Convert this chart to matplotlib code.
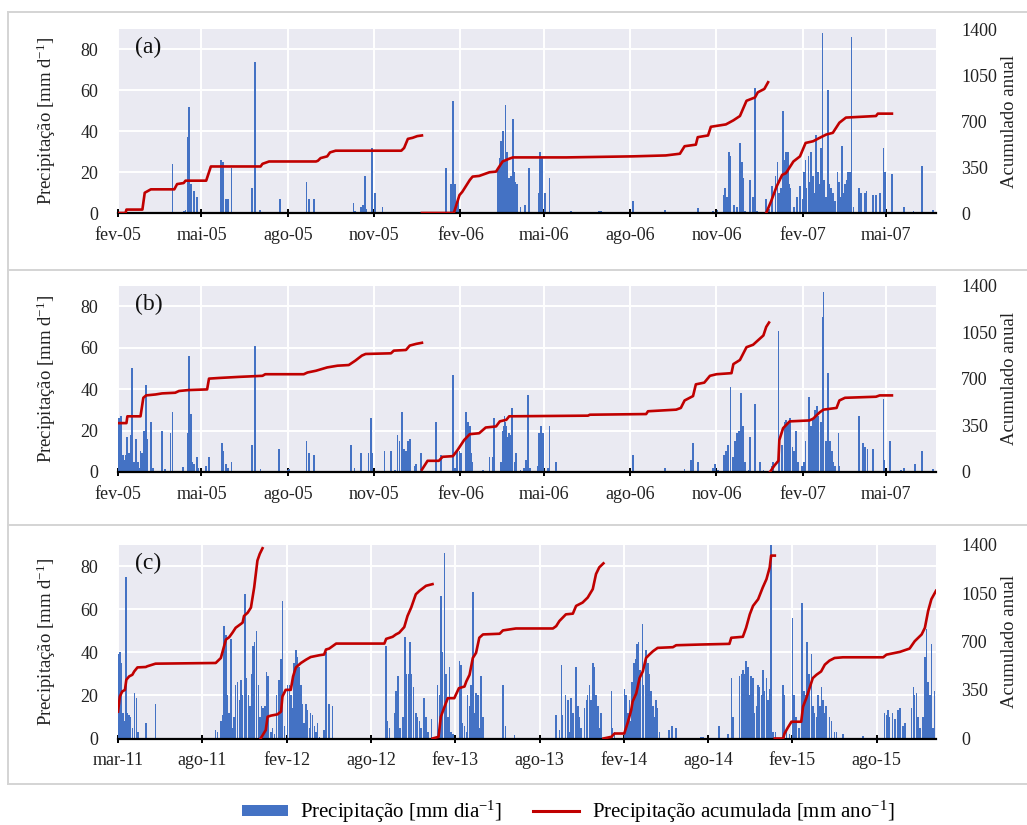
import datetime as dt
import numpy as np
import matplotlib
matplotlib.use("Agg")
import matplotlib.pyplot as plt
import matplotlib.dates as mdates
from matplotlib.lines import Line2D
from matplotlib.patches import Patch

plt.rcParams['font.family'] = ['Liberation Serif', 'DejaVu Serif']
plt.rcParams['mathtext.fontset'] = 'custom'
plt.rcParams['mathtext.rm'] = 'Liberation Serif'
plt.rcParams['mathtext.default'] = 'regular'

# ---------------- data ----------------
# panels (a) and (b): day offsets from 2005-02-01
start_ab = dt.date(2005, 2, 1)
span_ab = 872
ticks_ab = [dt.date(2005, 2, 1), dt.date(2005, 5, 1), dt.date(2005, 8, 1), dt.date(2005, 11, 1),
            dt.date(2006, 2, 1), dt.date(2006, 5, 1), dt.date(2006, 8, 1), dt.date(2006, 11, 1),
            dt.date(2007, 2, 1), dt.date(2007, 5, 1)]
labels_ab = ['fev-05', 'mai-05', 'ago-05', 'nov-05', 'fev-06', 'mai-06', 'ago-06', 'nov-06', 'fev-07', 'mai-07']

a_day = [37, 47, 58, 70, 72, 74, 75, 76, 78, 81, 84, 97, 104, 110, 112, 115, 117, 121, 143, 146, 151, 173,
         201, 204, 209, 224, 251, 253, 259, 261, 263, 265, 271, 274, 282, 293, 350, 355, 357, 359, 361, 363,
         405, 407, 408, 410, 412, 413, 415, 417, 418, 419, 421, 422, 423, 425, 429, 434, 438, 449, 450, 451,
         452, 455, 460, 471, 483, 513, 515, 549, 583, 588, 618, 634, 639, 646, 647, 649, 651, 653, 657, 660,
         663, 665, 666, 668, 674, 677, 679, 681, 691, 694, 697, 701, 703, 705, 707, 709, 710, 712, 714, 715,
         717, 720, 721, 724, 727, 730, 731, 733, 734, 736, 737, 739, 741, 742, 744, 746, 747, 749, 751, 753,
         755, 757, 758, 760, 762, 764, 767, 769, 770, 772, 774, 775, 777, 778, 780, 782, 784, 790, 792, 796,
         798, 800, 805, 808, 812, 816, 818, 825, 838, 848, 857, 869]
a_mm = [0.5, 0.5, 24, 1, 1.5, 15, 37, 52, 14, 11, 8, 0.5, 0.5, 26, 25, 7, 7, 22, 12, 74, 1.5, 7,
        15, 7, 7, 0.5, 5, 1, 3, 4, 18, 2, 32, 10, 3, 0.5, 22, 14, 55, 14, 4, 8,
        22, 27, 35, 40, 25, 53, 30, 17, 16, 18, 46, 20, 15, 14, 3, 4, 22, 10, 30, 20,
        27, 10, 17, 0.5, 1, 1, 1, 6, 1.5, 0.5, 2.5, 1, 1.5, 9, 12, 8, 30, 28, 4, 3,
        34, 25, 17, 1, 16, 8, 61, 1, 7, 2, 13, 18, 25, 10, 12, 50, 26, 30, 30, 14,
        12, 3, 3, 8, 13, 7, 20, 26, 12, 28, 15, 30, 18, 10, 38, 20, 14, 32, 88, 16,
        8, 60, 14, 12, 10, 6, 20, 15, 8, 33, 10, 14, 16, 20, 20, 86, 3, 12, 10, 10,
        11, 0.5, 9, 9, 10, 32, 20, 19, 3, 1, 23, 1.5]

a_cum_day = [0, 8, 9, 26, 28.5, 35, 60, 63, 70, 72, 94, 99, 152, 154, 161, 211, 213, 216, 223, 226, 232,
             302, 305, 309, 314, 319, 324, np.nan,
             324, 358, 364, 367, 375, 378, 385, 396, 403, 407, 410, 417, 421, 478, 549, 584, 599, 604, 616,
             618, 629, 632, 648, 656, 663, 670, 679, 682, 689, 693, np.nan,
             691, 696, 702, 708, 712, 720, 727, 733, 741, 748, 755, 762, 769, 776, 808, 810, 825]
a_cum_val = [0, 0, 26, 26, 154, 180, 180, 220, 228, 246, 246, 354, 354, 374, 392, 392, 397, 418, 431, 461, 474,
             474, 495, 564, 572, 585, 590, np.nan,
             0, 0, 136, 161, 251, 277, 282, 310, 315, 359, 392, 413, 423, 423, 431, 438, 451, 508, 520,
             577, 590, 656, 674, 705, 738, 854, 879, 918, 944, 995, np.nan,
             0, 85, 200, 290, 303, 392, 431, 533, 546, 572, 597, 610, 687, 726, 738, 756, 756]

b_day = [0, 1, 3, 5, 6, 8, 10, 12, 14, 15, 17, 19, 21, 22, 24, 26, 28, 30, 31, 35, 37, 47, 50, 56, 58, 69,
         74, 76, 78, 79, 81, 84, 85, 94, 97, 111, 112, 115, 117, 121, 143, 146, 152, 172, 181, 182, 201, 204,
         209, 248, 252, 259, 267, 270, 271, 284, 291, 295, 298, 300, 303, 305, 307, 309, 311, 316, 318, 323,
         339, 344, 357, 359, 361, 364, 366, 371, 373, 375, 376, 378, 384, 389, 396, 400, 401, 405, 408, 410,
         411, 412, 413, 414, 416, 417, 418, 420, 423, 424, 429, 433, 435, 437, 439, 448, 449, 451, 453, 458,
         460, 467, 549, 583, 604, 611, 613, 618, 634, 636, 640, 646, 648, 650, 653, 656, 658, 660, 662, 664,
         666, 668, 673, 674, 679, 684, 688, 697, 698, 704, 705, 708, 711, 712, 714, 716, 719, 721, 723, 725,
         729, 731, 733, 736, 737, 739, 741, 743, 745, 746, 749, 751, 752, 755, 757, 759, 761, 762, 764, 768,
         769, 790, 794, 796, 799, 805, 816, 817, 823, 835, 838, 850, 857, 869]
b_mm = [11, 26, 27, 8, 6, 8, 17, 9, 18, 50, 5, 16, 5, 2, 10, 9, 20, 42, 16, 24, 2, 20, 1.5, 19, 29, 2.5,
        19, 56, 28, 5, 4, 7, 2, 3, 7, 14, 10, 4, 2, 5, 13, 61, 1.5, 11, 1, 1.5, 15, 9,
        8, 13, 2, 9, 9, 26, 9, 10, 10, 1, 18, 15, 29, 11, 10, 15, 16, 3, 4, 9,
        24, 8, 47, 2, 10, 10, 9, 29, 24, 22, 9, 5, 0.5, 1, 7, 7, 26, 0.5, 5, 20,
        22, 27, 24, 22, 17, 19, 18, 31, 5, 9, 1, 2, 6, 37, 2, 3, 19, 22, 19, 2,
        22, 5, 8, 2, 1.5, 6, 14, 5, 2, 4, 1, 8, 10, 13, 41, 7, 15, 19, 20, 38,
        22, 5, 1, 17, 33, 5, 1, 3, 5, 68, 10, 13, 24, 25, 24, 26, 12, 10, 20, 5,
        3, 5, 15, 35, 36, 22, 25, 30, 32, 27, 24, 75, 87, 15, 48, 15, 10, 5, 3, 19,
        3, 27, 14, 12, 11, 11, 35, 6, 15, 1, 2, 4, 10, 1.5]

b_cum_day = [0, 9, 10, 24, 27, 30, 40, 47, 61, 65, 75, 95, 97, 108, 129, 154, 157, 198, 202, 211, 223, 234,
             246, 253, 260, 264, 291, 294, 307, 311, 318, 324, np.nan,
             324, 330, 342, 346, 357, 362, 369, 375, 385, 392, 403, 407, 414, 417, 501, 503, 563, 565, 595,
             600, 604, 613, 616, 625, 631, 638, 654, 656, 663, 670, 677, 682, 688, 691, 694, np.nan,
             695, 700, 704, 705, 709, 716, 737, 741, 748, 752, 766, 769, 775, 808, 812, 825]
b_cum_val = [367, 367, 418, 418, 557, 575, 582, 590, 595, 608, 615, 620, 701, 706, 714, 722, 734, 734, 747, 760,
             785, 798, 803, 836, 874, 886, 891, 911, 916, 949, 962, 970, np.nan,
             18, 84, 84, 114, 119, 165, 240, 284, 291, 334, 342, 380, 392, 418, 423, 430, 435, 456, 468,
             481, 537, 570, 658, 671, 722, 734, 742, 810, 841, 937, 955, 987, 1025, 1089, 1122, np.nan,
             0, 51, 84, 240, 329, 380, 387, 400, 448, 468, 481, 537, 557, 565, 575, 575]

# panel (c): day offsets from 2011-03-01, ticks every 182 days
start_c = dt.date(2011, 3, 1)
span_c = 1766
tick_step_c = 182
labels_c = ['mar-11', 'ago-11', 'fev-12', 'ago-12', 'fev-13', 'ago-13', 'fev-14', 'ago-14', 'fev-15', 'ago-15']

c_day = [0, 4, 7, 11, 14, 17, 20, 24, 27, 31, 36, 40, 43, 60, 81,
         211, 215, 222, 226, 229, 233, 236, 240, 244, 247, 251, 254, 258, 262, 265, 269, 274, 277, 282, 285,
         288, 292, 295, 299, 303, 306, 310, 313, 317, 321, 324, 330, 334, 338, 342, 348, 352, 355, 359, 366,
         370, 373, 377, 380, 384, 388, 391, 395, 398, 402, 406, 409, 413, 416, 420, 424, 427, 431, 435, 445,
         449, 456, 463,
         579, 582, 586, 597, 600, 605, 609, 615, 620, 623, 627, 630, 634, 638, 643, 647, 651, 654, 661, 665,
         669, 677,
         690, 694, 697, 701, 705, 708, 712, 716, 719, 723, 737, 741, 744, 748, 752, 755, 759, 762, 766, 770,
         773, 777, 780, 784, 788, 831, 837, 856,
         946, 953, 957, 960, 966, 971, 975, 978, 982, 989, 993, 996, 1000, 1007, 1011, 1014, 1018, 1021, 1025,
         1029, 1032, 1036, 1039, 1043, 1065, 1068, 1072, 1093, 1097, 1101, 1104, 1108, 1110, 1114, 1117, 1121,
         1124, 1127, 1132, 1135, 1140, 1144, 1147, 1151, 1155, 1158, 1162, 1165, 1169, 1189, 1196, 1205, 1259,
         1263, 1297, 1317, 1324, 1328, 1342, 1346, 1349, 1353, 1356, 1360, 1364, 1367, 1371, 1374, 1378, 1382,
         1385, 1389, 1392, 1396, 1400, 1403, 1407, 1410, 1414, 1420, 1436, 1439, 1443, 1450, 1456, 1459, 1464,
         1470, 1477, 1481, 1485, 1488, 1492, 1497, 1500, 1504, 1508, 1511, 1515, 1519, 1522, 1526, 1529, 1536,
         1540, 1547, 1551, 1565, 1608, 1655, 1659, 1662, 1666, 1672, 1677, 1684, 1688, 1695, 1699, 1713, 1717,
         1720, 1724, 1727, 1732, 1738, 1742, 1745, 1749, 1753, 1756, 1760, 1763]
c_mm = [39, 40, 35, 12, 8, 75, 12, 11, 10, 5, 21, 19, 3, 7, 16,
        4, 3, 8, 11, 52, 48, 20, 12, 46, 5, 10, 25, 26, 18, 27, 20, 67, 28, 20, 15,
        30, 43, 45, 50, 25, 10, 15, 14, 15, 31, 29, 3, 5, 2, 20, 27, 37, 64, 6, 25,
        25, 20, 14, 35, 41, 38, 33, 25, 16, 7, 16, 13, 5, 12, 11, 6, 3, 7, 0.5, 4,
        40, 16, 15,
        43, 8, 5, 12, 22, 29, 5, 10, 47, 30, 30, 45, 30, 24, 12, 10, 8, 5, 19, 10,
        3, 9,
        25, 20, 66, 40, 86, 30, 10, 33, 3, 2, 36, 34, 7, 6, 3, 20, 15, 25, 68, 12,
        21, 20, 5, 29, 10, 25, 6, 1.5,
        11, 4, 34, 11, 20, 18, 3, 19, 12, 33, 15, 10, 5, 14, 18, 20, 25, 18, 35,
        33, 20, 15, 5, 12, 22, 5, 3, 23, 20, 12, 18, 8, 26, 35, 37, 44,
        45, 32, 53, 25, 41, 35, 30, 22, 15, 10, 18, 14, 3, 4, 6, 5, 0.5,
        0.5, 6, 2, 28, 10, 29, 30, 32, 30, 36, 33, 20, 29, 28, 12, 15, 25,
        24, 20, 32, 22, 28, 18, 23, 90, 3, 3, 25, 20, 3, 2, 56, 20, 10,
        5, 63, 22, 20, 45, 30, 39, 15, 12, 10, 20, 15, 24, 18, 12, 15, 10,
        8, 3, 3, 2, 1, 12, 11, 13, 10, 12, 9, 13, 14, 6, 7, 14, 24,
        20, 21, 10, 5, 10, 38, 51, 26, 20, 44, 5, 22]

c_cum_day = [0, 4, 9, 15, 18, 24, 31, 35, 42, 60, 63, 81, 211, 222, 233, 240, 247, 254, 262, 269, 272, 280,
             287, 294, 301, 306, 312, np.nan,
             308, 319, 323, 330, 344, 352, 355, 362, 373, 378, 384, 395, 406, 416, 435, 445, 449, 456, 471,
             575, 579, 593, 600, 607, 618, 625, 633, 643, 651, 665, 679, np.nan,
             679, 692, 697, 705, 712, 726, 736, 748, 752, 759, 766, 773, 780, 788, 824, 831, 859, 939, 946,
             953, 967, 982, 989, 1003, 1014, 1025, 1032, 1039, 1048, np.nan,
             1048, 1065, 1072, 1093, 1101, 1108, 1111, 1119, 1126, 1133, 1140, 1147, 1155, 1165, 1198, 1205,
             1256, 1320, 1324, 1349, 1356, 1364, 1371, 1382, 1392, 1400, 1407, 1410, 1418, np.nan,
             1418, 1436, 1439, 1446, 1454, 1475, 1479, 1486, 1493, 1500, 1508, 1518, 1526, 1536, 1547, 1565,
             1652, 1659, 1688, 1709, 1720, 1735, 1742, 1749, 1756, 1766]
c_cum_val = [194, 303, 339, 351, 424, 448, 460, 484, 513, 516, 521, 540, 545, 581, 714, 731, 763, 799, 819, 836,
             884, 908, 945, 1090, 1284, 1332, 1373, np.nan,
             0, 61, 157, 165, 174, 194, 303, 351, 351, 448, 513, 545, 569, 588, 601, 606, 642, 649, 685,
             685, 719, 734, 751, 763, 804, 884, 945, 1041, 1066, 1102, 1114, np.nan,
             0, 12, 157, 230, 291, 291, 363, 375, 412, 460, 581, 618, 727, 751, 756, 780, 794, 794, 811,
             848, 896, 901, 957, 981, 1017, 1078, 1187, 1235, 1264, np.nan,
             0, 12, 36, 36, 121, 206, 266, 327, 436, 484, 581, 605, 630, 654, 659, 673,
             678, 683, 727, 734, 799, 896, 957, 1005, 1090, 1150, 1235, 1320, 1320, np.nan,
             0, 0, 36, 78, 121, 121, 230, 291, 363, 436, 460, 484, 533, 562, 581, 586,
             586, 605, 625, 649, 702, 751, 799, 920, 1005, 1066]

panel_letters = ['(a)', '(b)', '(c)']

# ---------------- style ----------------
BLUE = '#4472C4'
RED = '#C00000'
BG = '#EAEAF2'
W, H = 1027, 825

fig = plt.figure(figsize=(W / 100, H / 100), dpi=100)
fig.patch.set_facecolor('white')


def fx(px):
    return px / W


def fy(py):
    return 1 - py / H


axes_px = [(118, 936, 29, 213), (118, 936, 285.5, 472), (118, 936, 544.5, 738.5)]

panels = [
    (start_ab, span_ab, a_day, a_mm, a_cum_day, a_cum_val, ticks_ab, labels_ab, 1.9),
    (start_ab, span_ab, b_day, b_mm, b_cum_day, b_cum_val, ticks_ab, labels_ab, 1.9),
    (start_c, span_c, c_day, c_mm, c_cum_day, c_cum_val,
     [start_c + dt.timedelta(days=tick_step_c * k) for k in range(len(labels_c))], labels_c, 3.3),
]

for i, (st, span, days, mm, cd, cv, tdates, tlabels, bw) in enumerate(panels):
    l, r, t, b = axes_px[i]
    ax = fig.add_axes([fx(l), fy(b), fx(r) - fx(l), fy(t) - fy(b)])
    ax.set_facecolor(BG)
    base = mdates.date2num(st)
    x = base + np.asarray(days, dtype=float)
    ax.bar(x, mm, width=bw, color=BLUE, linewidth=0, align='center', zorder=2)
    ax.set_xlim(base, base + span)
    ax.set_ylim(0, 90)
    ax.set_yticks([0, 20, 40, 60, 80])
    ax.set_xticks([mdates.date2num(d) for d in tdates])
    ax.set_xticklabels(tlabels)
    ax.grid(True, color='white', linewidth=1.4, zorder=0)
    ax.set_axisbelow(True)
    for s in ['top', 'left', 'right']:
        ax.spines[s].set_visible(False)
    ax.spines['bottom'].set_color('black')
    ax.spines['bottom'].set_linewidth(1.6)
    ax.spines['bottom'].set_zorder(5)
    ax.tick_params(axis='x', direction='inout', length=6, width=1.4, color='black',
                   labelsize=13, pad=7, labelcolor='#222222')
    ax.tick_params(axis='y', length=0, labelsize=13, pad=14, labelcolor='#222222')
    ax.set_ylabel('Precipitação [mm d$^{-1}$]', fontsize=13.5, color='#222222')
    ax.yaxis.set_label_coords(-0.073, 0.5)
    ax.text(0.021, 0.90, panel_letters[i], transform=ax.transAxes, fontsize=17,
            va='center', ha='left', color='#111111')

    ax2 = ax.twinx()
    ax2.set_ylim(0, 1400)
    ax2.set_yticks([0, 350, 700, 1050, 1400])
    for s in ax2.spines.values():
        s.set_visible(False)
    ax2.tick_params(axis='y', length=0, labelsize=13, pad=18, labelcolor='#222222')
    ax2.plot(base + np.asarray(cd, dtype=float), cv, color=RED, linewidth=1.9, zorder=4,
             solid_joinstyle='round')
    ax2.set_ylabel('Acumulado anual', fontsize=13.5, color='#222222')
    ax2.yaxis.set_label_coords(1.079, 0.5)

# frame lines
fc = '#D4D4D4'
for yy in [12, 270, 525, 784]:
    fig.add_artist(Line2D([fx(8), 1.0], [fy(yy), fy(yy)], color=fc, linewidth=1.4))
fig.add_artist(Line2D([fx(8), fx(8)], [fy(12), fy(784)], color=fc, linewidth=1.4))

# legend
handles = [Patch(facecolor=BLUE, edgecolor='none'),
           Line2D([0], [0], color=RED, linewidth=2.2)]
fig.legend(handles, ['Precipitação [mm dia$^{-1}$]', 'Precipitação acumulada [mm ano$^{-1}$]'],
           loc='center', bbox_to_anchor=(fx(568), fy(812)), ncol=2, frameon=False,
           fontsize=15, handlelength=2.2, handleheight=0.5, columnspacing=1.5, handletextpad=0.6)

fig.savefig('out.png', dpi=100, facecolor='white')
